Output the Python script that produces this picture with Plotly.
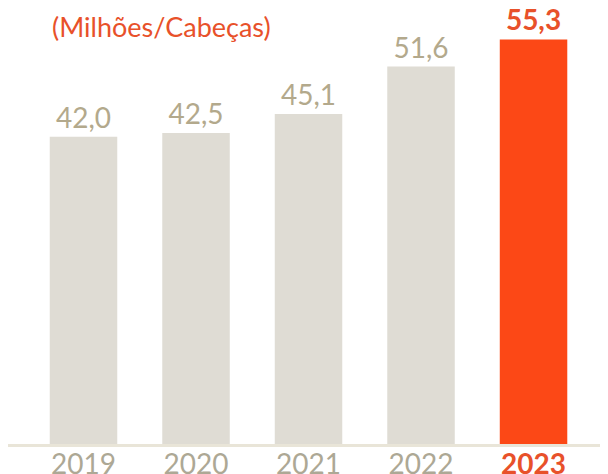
import plotly.graph_objects as go

years = ["2019", "2020", "2021", "2022", "2023"]
values = [42.0, 42.5, 45.1, 51.6, 55.3]
labels = ["42,0", "42,5", "45,1", "51,6", "55,3"]
subtitle = "(Milhões/Cabeças)"

GREY_BAR = "#DFDCD4"
HIGHLIGHT = "#FC4816"
TEXT_GREY = "#B3A98C"
TICK_GREY = "#ADA895"
ORANGE_TXT = "#E8512A"

bar_colors = [GREY_BAR] * 4 + [HIGHLIGHT]
text_colors = [TEXT_GREY] * 4 + [ORANGE_TXT]
text_labels = labels[:4] + ["<b>" + labels[4] + "</b>"]
tick_text = [f"<span style='color:{TICK_GREY}'>{y}</span>" for y in years[:4]] + \
            [f"<b><span style='color:{ORANGE_TXT}'>{years[4]}</span></b>"]

fig = go.Figure(go.Bar(
    x=list(range(len(years))),
    y=values,
    width=0.6,
    marker=dict(color=bar_colors, line=dict(width=0)),
    text=text_labels,
    textposition="outside",
    textfont=dict(family="Lato", size=28, color=text_colors),
    cliponaxis=False,
    hoverinfo="skip",
))

fig.update_layout(
    width=608, height=474,
    margin=dict(l=0, r=0, t=0, b=38, autoexpand=False),
    paper_bgcolor="white", plot_bgcolor="white",
    showlegend=False,
    xaxis=dict(
        range=[-0.671, 4.733],
        tickmode="array", tickvals=list(range(len(years))), ticktext=tick_text,
        tickfont=dict(family="Lato", size=28, color=TICK_GREY),
        ticklabelstandoff=-6,
        showline=True, linecolor="#E9E5D8", linewidth=2.5,
        showgrid=False, zeroline=False, ticks="",
    ),
    yaxis=dict(range=[0, 59.6], visible=False, showgrid=False, zeroline=False),
    annotations=[dict(
        text=subtitle, xref="paper", yref="paper", x=42 / 608, y=1.0,
        xanchor="left", yanchor="top", showarrow=False,
        font=dict(family="Lato", size=27, color=ORANGE_TXT),
    )],
)

fig.write_html("out.html")
